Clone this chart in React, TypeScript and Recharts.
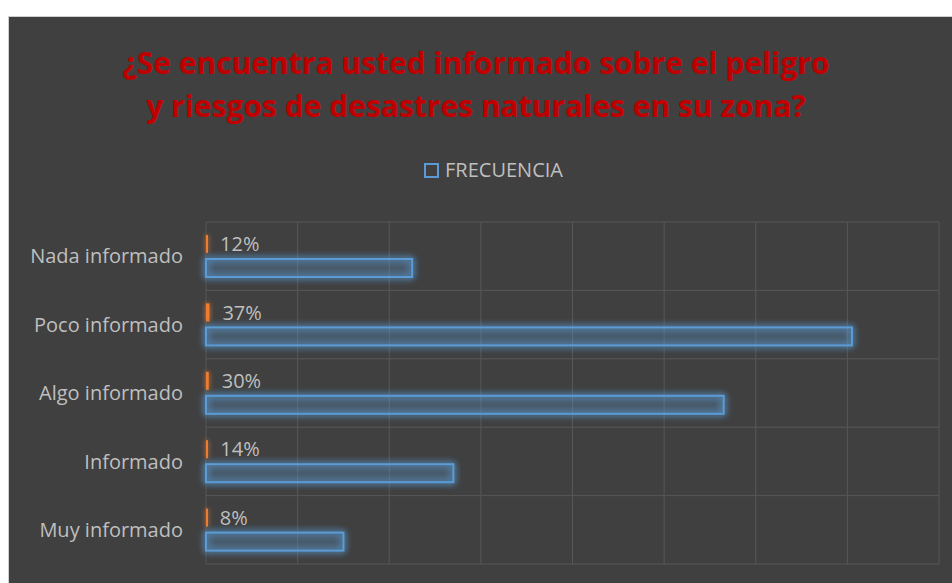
import React from 'react';
import { BarChart, Bar, XAxis, YAxis, CartesianGrid, Legend, LabelList } from 'recharts';

const CATEGORIES = ['Nada informado', 'Poco informado', 'Algo informado', 'Informado', 'Muy informado'];
const FRECUENCIA = [22.5, 70.5, 56.5, 27, 15];
const PORCENTAJE = [0.12, 0.37, 0.3, 0.14, 0.08];
const X_TICKS = [0, 10, 20, 30, 40, 50, 60, 70, 80];
const TITLE_LINES = ['¿Se encuentra usted informado sobre el peligro', 'y riesgos de desastres naturales en su zona?'];

const data = CATEGORIES.map((name, i) => ({
  name,
  porcentaje: PORCENTAJE[i],
  frecuencia: FRECUENCIA[i],
}));

const W = 944;
const H = 567;
const BG = '#404040';
const TEXT = '#bfbfbf';
const BLUE = '#5b9bd5';
const ORANGE = '#ed7d31';
const FONT = '"Open Sans", sans-serif';

const FreqBar = (props: any) => {
  const { x, y, width, height } = props;
  return (
    <rect x={x} y={y} width={width} height={height} fill={BLUE} fillOpacity={0.1}
      stroke={BLUE} strokeWidth={2} filter="url(#glowBlue)" />
  );
};

const PctBar = (props: any) => {
  const { x, y, width, height } = props;
  return <rect x={x} y={y} width={Math.max(width, 2)} height={height} fill={ORANGE} filter="url(#glowOrange)" />;
};

const LegendBox = () => (
  <div style={{ textAlign: 'center', paddingLeft: 26, fontFamily: FONT, fontSize: 20, color: TEXT, lineHeight: '27px' }}>
    <span style={{ display: 'inline-block', width: 11, height: 11, border: `2px solid ${BLUE}`, marginRight: 6, verticalAlign: '-1px' }} />
    FRECUENCIA
  </div>
);

export default function App() {
  return (
    <div style={{ position: 'fixed', left: 8, top: 16, width: W, height: H, background: BG,
      borderTop: '1px solid #d0d0d0', borderLeft: '1px solid #d0d0d0', boxSizing: 'border-box', overflow: 'hidden' }}>
      <div style={{ position: 'absolute', left: 0, top: 24, width: W - 10, textAlign: 'center', fontFamily: FONT,
        fontWeight: 700, fontSize: 30, lineHeight: '43px', color: '#c00000' }}>
        {TITLE_LINES[0]}<br />{TITLE_LINES[1]}
      </div>
      <BarChart width={W - 1} height={H - 1} data={data} layout="vertical" barSize={18} barGap={6}
        margin={{ top: 205, right: 13, bottom: 19, left: 0 }} style={{ fontFamily: FONT }}>
        <defs>
          <filter id="glowBlue" filterUnits="userSpaceOnUse" x={0} y={0} width={W} height={H}>
            <feGaussianBlur in="SourceGraphic" stdDeviation={3.5} result="blur" />
            <feMerge>
              <feMergeNode in="blur" />
              <feMergeNode in="blur" />
              <feMergeNode in="SourceGraphic" />
            </feMerge>
          </filter>
          <filter id="glowOrange" filterUnits="userSpaceOnUse" x={0} y={0} width={W} height={H}>
            <feGaussianBlur in="SourceGraphic" stdDeviation={2.5} result="blur" />
            <feMerge>
              <feMergeNode in="blur" />
              <feMergeNode in="SourceGraphic" />
            </feMerge>
          </filter>
        </defs>
        <CartesianGrid stroke="#575757" strokeWidth={1}
          verticalCoordinatesGenerator={({ offset }: any) => X_TICKS.map((t) => offset.left + (t / 80) * offset.width)}
          horizontalCoordinatesGenerator={({ offset }: any) =>
            Array.from({ length: CATEGORIES.length + 1 }, (_, i) => offset.top + (i * offset.height) / CATEGORIES.length)} />
        <XAxis type="number" domain={[0, 80]} ticks={X_TICKS} hide />
        <YAxis type="category" dataKey="name" width={197} axisLine={false} tickLine={false} tickSize={0} tickMargin={23}
          tick={{ fill: TEXT, fontSize: 20, fontFamily: FONT }} />
        <Legend verticalAlign="middle" align="center" layout="horizontal" content={<LegendBox />}
          wrapperStyle={{ top: 139, left: 0, width: W - 1 }} />
        <Bar dataKey="porcentaje" name="PORCENTAJE" fill={ORANGE} shape={<PctBar />} isAnimationActive={false} legendType="none">
          <LabelList dataKey="porcentaje" position="right" offset={13} fill={TEXT} fontSize={20} fontFamily={FONT}
            formatter={(v: any) => `${Math.round(Number(v) * 100)}%`} />
        </Bar>
        <Bar dataKey="frecuencia" name="FRECUENCIA" fill={BLUE} shape={<FreqBar />} isAnimationActive={false} />
      </BarChart>
    </div>
  );
}
